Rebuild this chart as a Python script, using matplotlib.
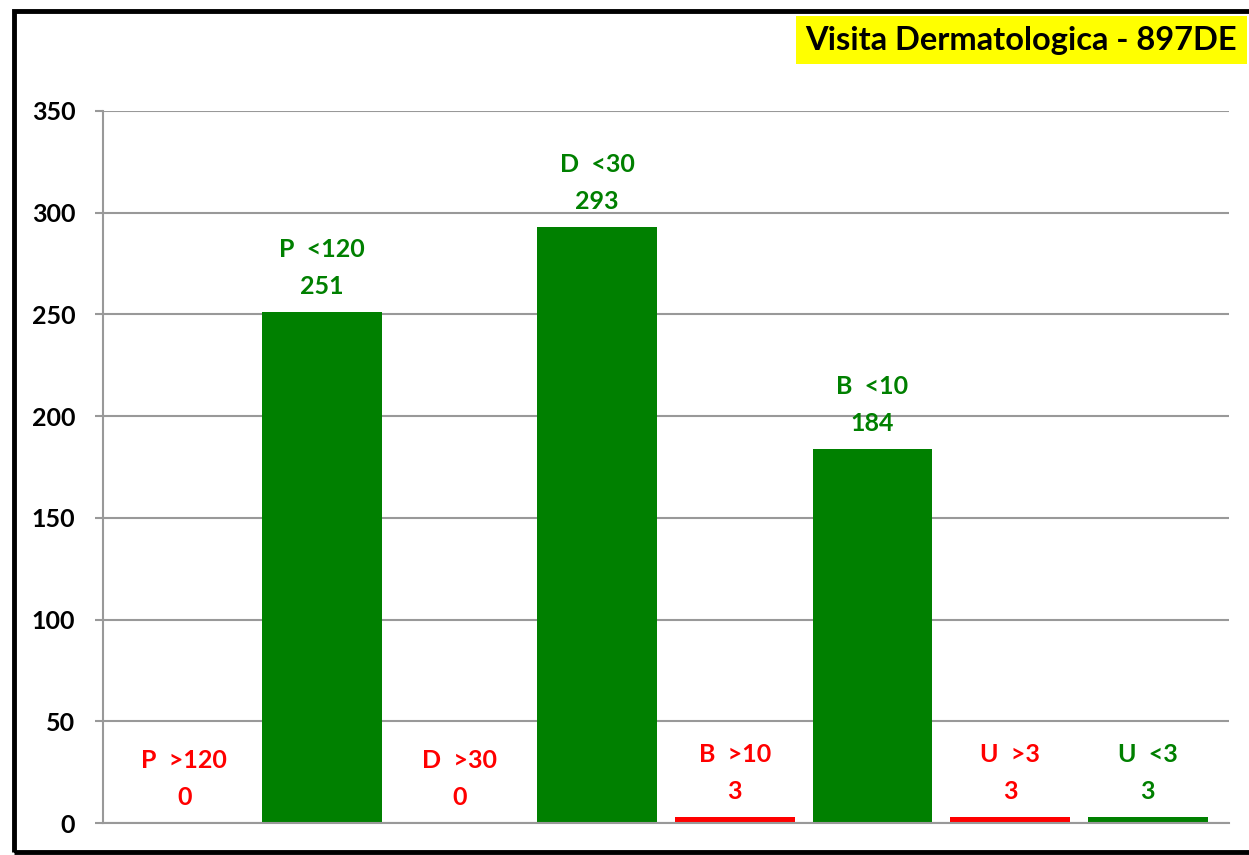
import matplotlib.pyplot as plt
import matplotlib.patches as mpatches

# ── Datos ─────────────────────────────────────────────────────────────────────
categorias = ['P  >120', 'P  <120', 'D  >30', 'D  <30', 'B  >10', 'B  <10', 'U  >3', 'U  <3']
valores    = [0, 251, 0, 293, 3, 184, 3, 3]
colores    = ['#FF0000', '#008000', '#FF0000', '#008000', '#FF0000', '#008000', '#FF0000', '#008000']
titulo     = 'Visita Dermatologica - 897DE'

plt.rcParams['font.family'] = ['Lato', 'DejaVu Sans']
plt.rcParams['font.weight'] = 'bold'

# ── Figura ────────────────────────────────────────────────────────────────────
fig = plt.figure(figsize=(12.49, 8.55), dpi=100)
ax = fig.add_axes([0.0825, 0.0374, 0.9015, 0.8328])

x = list(range(len(valores)))
ax.bar(x, valores, width=0.87, color=colores, zorder=2)

for xi, v, lab, c in zip(x, valores, categorias, colores):
    ax.annotate(f'{lab}\n{v}', xy=(xi, v), xytext=(0, 10), textcoords='offset points',
                ha='center', va='bottom', fontsize=18, fontweight='bold',
                color=c, linespacing=1.75)

ax.set_xlim(-0.59, 7.59)
ax.set_ylim(0, 350)
ax.set_yticks(range(0, 351, 50))
ax.set_xticks([])
ax.grid(axis='y', color='#999999', linewidth=1.5, zorder=0)
ax.set_axisbelow(True)

for s in ['top', 'right']:
    ax.spines[s].set_visible(False)
for s in ['left', 'bottom']:
    ax.spines[s].set_color('#999999')
    ax.spines[s].set_linewidth(1.5)
ax.tick_params(axis='y', length=6, width=1.5, color='#999999', pad=14,
               labelsize=18, labelcolor='black')
for t in ax.get_yticklabels():
    t.set_fontweight('bold')

# Título con fondo amarillo
fig.text(0.645, 0.953, titulo, fontsize=23.5, fontweight='bold', color='black',
         ha='left', va='center',
         bbox=dict(facecolor='#FFFF00', edgecolor='none', pad=7))

# Marco negro
fig.patches.append(mpatches.Rectangle((14 / 1249, 3 / 855), 1.2, 841 / 855,
                                      transform=fig.transFigure, fill=False,
                                      edgecolor='black', linewidth=3.5))

plt.savefig('out.png', dpi=100)
